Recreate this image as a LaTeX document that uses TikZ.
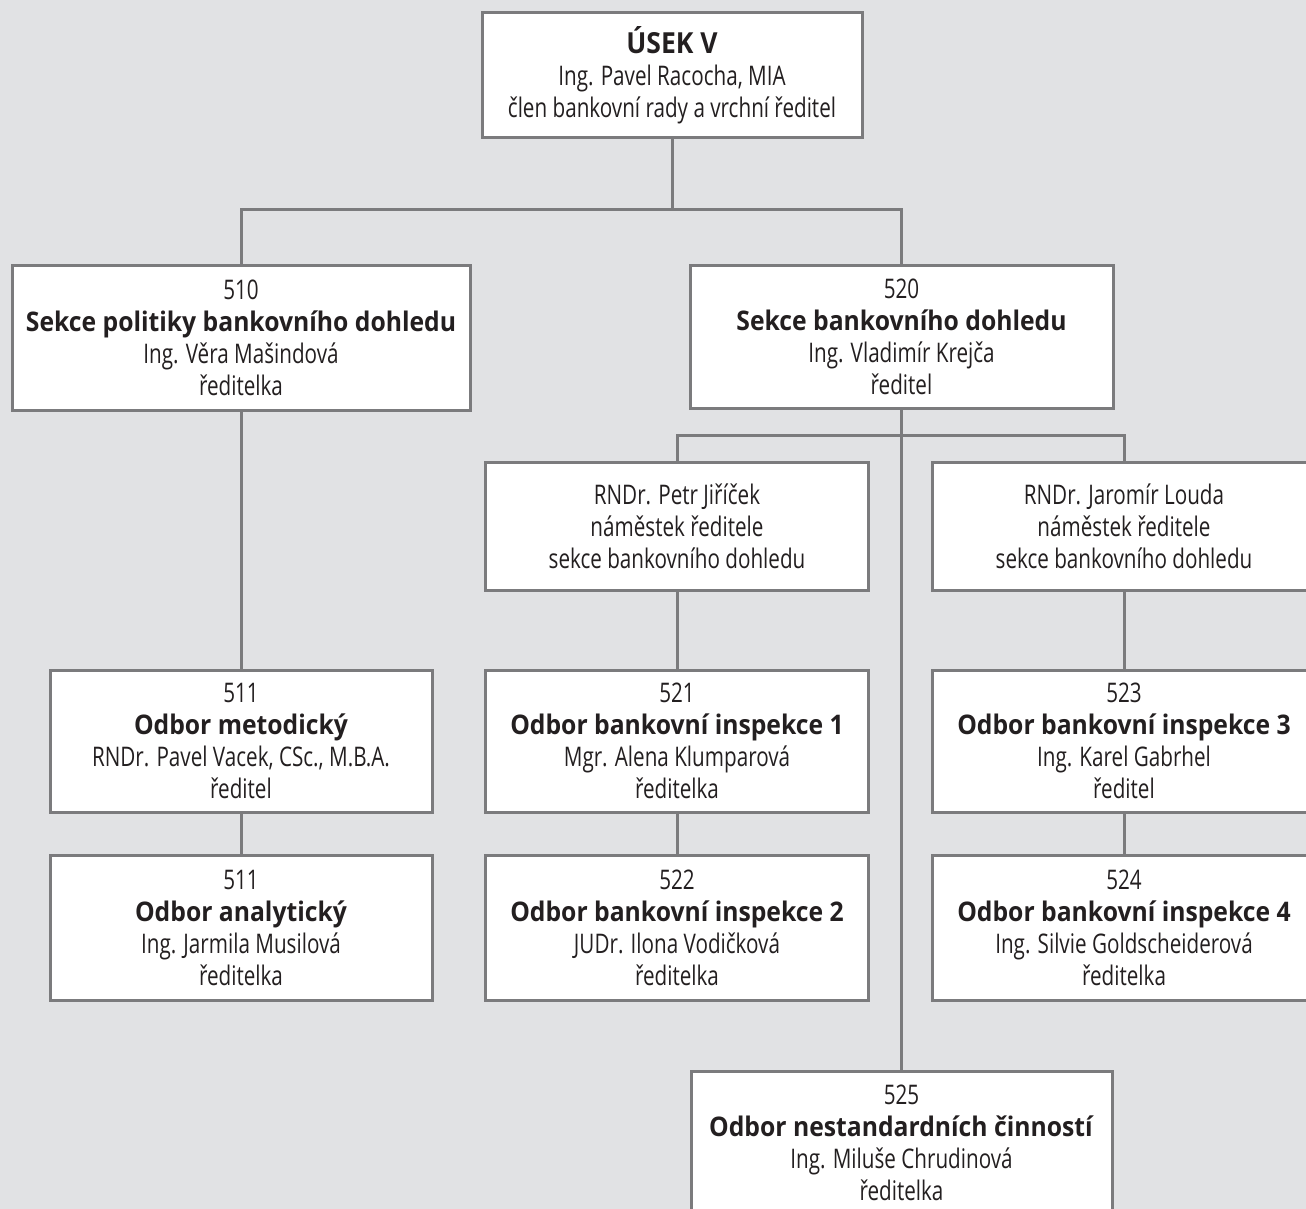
\documentclass[tikz,border=0pt]{standalone}
\usepackage{fontspec}
\setmainfont{Open Sans}[FakeStretch=0.765,BoldFeatures={FakeStretch=0.915}]
\definecolor{bggray}{HTML}{E1E2E4}
\definecolor{linegray}{HTML}{7B7B7D}
\definecolor{txt}{HTML}{231F20}
\begin{document}
\begin{tikzpicture}[x=1pt,y=-1pt,
  orgbox/.style={draw=linegray,line width=3pt,fill=white,align=center,inner sep=0pt,
    text=txt,font=\fontsize{27}{32}\selectfont,minimum width=383pt,minimum height=143pt},
  conn/.style={draw=linegray,line width=3pt}]
\fill[bggray] (0,0) rectangle (1306,1209);
\useasboundingbox (0,0) rectangle (1306,1209);
\clip (0,0) rectangle (1306,1209);
\node[orgbox,minimum width=380pt,minimum height=125pt] (usek) at (672,75.5)
  {{\fontsize{29}{32}\selectfont\textbf{ÚSEK V}}\\Ing. Pavel Racocha, MIA\\člen bankovní rady a vrchní ředitel};
\node[orgbox,minimum width=458pt,minimum height=145pt] (s510) at (241,337.5)
  {510\\\textbf{Sekce politiky bankovního dohledu}\\Ing. Věra Mašindová\\ředitelka};
\node[orgbox,minimum width=423pt,minimum height=143pt] (s520) at (901.5,336.5)
  {520\\\textbf{Sekce bankovního dohledu}\\Ing. Vladimír Krejča\\ředitel};
\node[orgbox,minimum height=128pt] (jir) at (677,526.5)
  {RNDr. Petr Jiříček\\náměstek ředitele\\sekce bankovního dohledu};
\node[orgbox,minimum width=384pt,minimum height=128pt] (lou) at (1124,526.5)
  {RNDr. Jaromír Louda\\náměstek ředitele\\sekce bankovního dohledu};
\node[orgbox,minimum width=382pt,minimum height=142pt] (o511a) at (241,741)
  {511\\\textbf{Odbor metodický}\\RNDr. Pavel Vacek, CSc., M.B.A.\\ředitel};
\node[orgbox,minimum width=382pt,minimum height=145pt] (o511b) at (241,927.5)
  {511\\\textbf{Odbor analytický}\\Ing. Jarmila Musilová\\ředitelka};
\node[orgbox,minimum height=142pt] (o521) at (677,741)
  {521\\\textbf{Odbor bankovní inspekce 1}\\Mgr. Alena Klumparová\\ředitelka};
\node[orgbox,minimum height=145pt] (o522) at (677,927.5)
  {522\\\textbf{Odbor bankovní inspekce 2}\\JUDr. Ilona Vodičková\\ředitelka};
\node[orgbox,minimum width=384pt,minimum height=142pt] (o523) at (1124,741)
  {523\\\textbf{Odbor bankovní inspekce 3}\\Ing. Karel Gabrhel\\ředitel};
\node[orgbox,minimum width=384pt,minimum height=145pt] (o524) at (1124,927.5)
  {524\\\textbf{Odbor bankovní inspekce 4}\\Ing. Silvie Goldscheiderová\\ředitelka};
\node[orgbox,minimum width=421pt,minimum height=144pt] (o525) at (901.5,1143)
  {525\\\textbf{Odbor nestandardních činností}\\Ing. Miluše Chrudinová\\ředitelka};
\coordinate (j1) at (672,210);
\coordinate (j2) at (901.5,435);
\draw[conn] (usek.south) -- (j1);
\draw[conn] (s510.north) |- (j1) -| (s520.north);
\draw[conn] (s520.south) -- (o525.north);
\draw[conn] (jir.north) |- (j2) -| (lou.north);
\draw[conn] (s510.south) -- (o511a.north);
\draw[conn] (o511a.south) -- (o511b.north);
\draw[conn] (jir.south) -- (o521.north);
\draw[conn] (o521.south) -- (o522.north);
\draw[conn] (lou.south) -- (o523.north);
\draw[conn] (o523.south) -- (o524.north);
\end{tikzpicture}
\end{document}
